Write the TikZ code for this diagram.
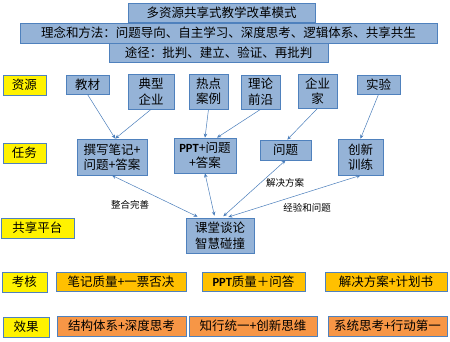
\documentclass[tikz,border=0pt]{standalone}
\usepackage{fontspec}
\setmainfont{Noto Sans CJK SC}
\newfontfamily\calibri{Carlito}
\usetikzlibrary{arrows.meta}
\definecolor{boxblue}{HTML}{95B3D7}
\definecolor{lineblue}{HTML}{4F81BD}
\definecolor{arrowblue}{HTML}{4A7EBB}
\definecolor{assessorange}{HTML}{FFC000}
\definecolor{effectorange}{HTML}{F79646}
\tikzset{
    box/.style={rectangle, draw=lineblue, line width=0.8pt, fill=boxblue, inner sep=0pt, align=center, font=\fontsize{12.5}{15.5}\selectfont},
    rowlabel/.style={box, fill=yellow},
    assess/.style={box, fill=assessorange},
    effect/.style={box, fill=effectorange},
    link/.style={draw=arrowblue, line width=0.5pt, -{Stealth[length=4pt, width=3.5pt]}},
    bilink/.style={draw=arrowblue, line width=0.5pt, {Stealth[length=4pt, width=3.5pt]}-{Stealth[length=4pt, width=3.5pt]}, shorten >=2pt},
    note/.style={font=\fontsize{9.5}{11}\selectfont, inner sep=1pt}
}

\begin{document}
\begin{tikzpicture}[x=1pt, y=-1pt]
    \fill[white] (0,0) rectangle (450,342);
    \useasboundingbox (0,0) rectangle (450,342);

    % Header
    \node[box, minimum width=187pt, minimum height=19pt] (title) at (221.5,12.5) {多资源共享式教学改革模式};
    \node[box, minimum width=417pt, minimum height=20pt] (idea) at (228.5,33) {理念和方法：问题导向、自主学习、深度思考、逻辑体系、共享共生};
    \node[box, minimum width=219pt, minimum height=19pt] (route) at (218.5,52.5) {途径：批判、建立、验证、再批判};

    % Row labels
    \node[rowlabel, minimum width=43pt, minimum height=20pt] (lblRes) at (24.5,85) {资源};
    \node[rowlabel, minimum width=43pt, minimum height=20pt] (lblTask) at (24.5,153) {任务};
    \node[rowlabel, minimum width=73pt, minimum height=20pt] (lblShare) at (37.5,228) {共享平台};
    \node[rowlabel, minimum width=45pt, minimum height=20pt] (lblAssess) at (24.5,282) {考核};
    \node[rowlabel, minimum width=46pt, minimum height=20pt] (lblEffect) at (26,327) {效果};

    % Resources
    \node[box, minimum width=43pt, minimum height=19pt] (textbook) at (87.5,84.5) {教材};
    \node[box, minimum width=46pt, minimum height=35pt] (typical) at (151,91.5) {典型\\企业};
    \node[box, minimum width=39pt, minimum height=35pt] (hotspot) at (208.5,91.5) {热点\\案例};
    \node[box, minimum width=39pt, minimum height=34pt] (theory) at (260.5,92) {理论\\前沿};
    \node[box, minimum width=39pt, minimum height=34pt] (entrep) at (317.5,91) {企业\\家};
    \node[box, minimum width=43pt, minimum height=19pt] (expt) at (378.5,84.5) {实验};

    % Tasks
    \node[box, minimum width=70pt, minimum height=36pt] (notes) at (112,157) {撰写笔记+\\问题+答案};
    \node[box, minimum width=62pt, minimum height=35pt] (ppt) at (205,155.5) {{\calibri\bfseries PPT}+问题\\+答案};
    \node[box, minimum width=51pt, minimum height=20pt] (problem) at (285.5,150) {问题};
    \node[box, minimum width=45pt, minimum height=36pt] (innov) at (360.5,157) {创新\\训练};

    % Platform
    \node[box, minimum width=68pt, minimum height=35pt] (forum) at (220,235.5) {课堂谈论\\智慧碰撞};

    % Assessment
    \node[assess, minimum width=130pt, minimum height=19pt] (asNotes) at (121,281.5) {笔记质量+一票否决};
    \node[assess, minimum width=103pt, minimum height=19pt] (asPpt) at (253.5,281.5) {{\calibri\bfseries PPT}质量＋问答};
    \node[assess, minimum width=122pt, minimum height=19pt] (asPlan) at (386,281.5) {解决方案+计划书};

    % Effects
    \node[effect, minimum width=129pt, minimum height=20pt] (efStruct) at (121.5,326) {结构体系+深度思考};
    \node[effect, minimum width=128pt, minimum height=20pt] (efUnity) at (253,326) {知行统一+创新思维};
    \node[effect, minimum width=119pt, minimum height=20pt] (efSystem) at (387.5,326) {系统思考+行动第一};

    % edges
    \draw[link] (textbook.south) -- (notes.80);
    \draw[link] (typical.south) -- (notes.80);
    \draw[link] (hotspot.south) -- (ppt.north);
    \draw[link] (theory.south) -- (ppt.56);
    \draw[link] (entrep.south) -- (problem.80);
    \draw[link] (expt.south) -- (innov.north);
    \draw[bilink] (notes.south) -- (forum.139);
    \draw[bilink] (ppt.south) -- (forum.106);
    \draw[bilink] (problem.south) -- (forum.84);
    \draw[bilink] (innov.south) -- (forum.70);

    % edge labels
    \node[note] (lblMerge) at (130,205) {整合完善};
    \node[note] (lblSolve) at (285,183) {解决方案};
    \node[note] (lblExp) at (307,208) {经验和问题};
\end{tikzpicture}
\end{document}
